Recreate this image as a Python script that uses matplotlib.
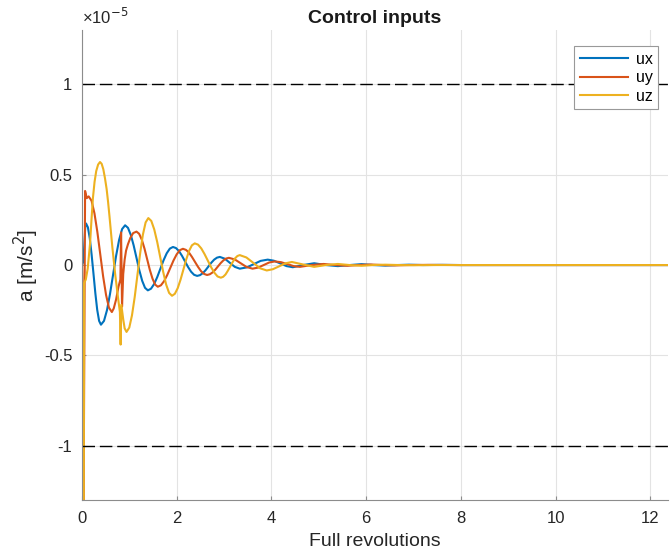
import numpy as np
import matplotlib.pyplot as plt

plt.rcParams['font.family'] = ['Liberation Sans', 'DejaVu Sans']
plt.rcParams['axes.unicode_minus'] = False

# control inputs, values in units of 1e-5 m/s^2, x in full revolutions
ux_x = [0, 0.03, 0.07, 0.085, 0.124, 0.164, 0.203, 0.243, 0.282, 0.321, 0.361, 0.40,
        0.464, 0.528, 0.591, 0.655, 0.719, 0.783, 0.846, 0.91,
        0.97, 1.03, 1.09, 1.15, 1.21, 1.27, 1.33, 1.39,
        1.456, 1.523, 1.589, 1.655, 1.721, 1.788, 1.854, 1.92,
        1.984, 2.048, 2.111, 2.175, 2.239, 2.303, 2.366, 2.43,
        2.49, 2.55, 2.61, 2.67, 2.73, 2.79, 2.85, 2.91,
        3.015, 3.12, 3.225, 3.33, 3.48, 3.625, 3.77, 3.92, 4.05, 4.185, 4.32, 4.45, 4.67, 4.90, 5.15,
        5.40, 5.65, 5.90, 6.15, 6.40, 6.65, 6.90, 7.20, 7.60, 8.0, 9.0, 10.0, 11.0, 12.37]
ux_y = [0, 0.02, 0.22, 0.23, 0.209, 0.148, 0.057, -0.05, -0.157, -0.248, -0.309, -0.33,
        -0.309, -0.249, -0.160, -0.055, 0.050, 0.139, 0.199, 0.22,
        0.206, 0.167, 0.109, 0.04, -0.029, -0.087, -0.126, -0.14,
        -0.131, -0.105, -0.066, -0.02, 0.026, 0.065, 0.091, 0.10,
        0.094, 0.077, 0.051, 0.02, -0.011, -0.037, -0.054, -0.06,
        -0.056, -0.045, -0.028, -0.0075, 0.013, 0.030, 0.041, 0.045,
        0.035, 0.0125, -0.01, -0.02, -0.013, 0.005, 0.023, 0.03, 0.024, 0.009, -0.006, -0.012, 0.0, 0.01, 0.0,
        -0.006, 0.0, 0.005, 0.0, -0.003, 0.0, 0.002, 0.0, 0.001, 0.0, 0.0, 0.0, 0.0, 0.0]

uy_x = [0, 0.015, 0.028, 0.065, 0.10, 0.14,
        0.201, 0.263, 0.324, 0.385, 0.446, 0.508, 0.569, 0.63,
        0.67, 0.72, 0.77, 0.81, 0.825, 0.845, 0.87, 0.90, 0.93, 0.97, 1.02, 1.08, 1.15,
        1.206, 1.263, 1.319, 1.375, 1.431, 1.488, 1.544, 1.60,
        1.666, 1.733, 1.799, 1.865, 1.931, 1.998, 2.064, 2.13,
        2.194, 2.258, 2.321, 2.385, 2.449, 2.513, 2.576, 2.64,
        2.698, 2.755, 2.813, 2.87, 2.928, 2.985, 3.043, 3.10,
        3.225, 3.35, 3.475, 3.60, 3.72, 3.835, 3.95, 4.07, 4.20, 4.335, 4.47, 4.60, 4.85, 5.10,
        5.35, 5.60, 5.85, 6.10, 6.35, 6.60, 6.90, 7.30, 8.0, 9.0, 10.0, 11.0, 12.37]
uy_y = [0, -0.2, -1.6, 0.41, 0.37, 0.38,
        0.356, 0.286, 0.183, 0.06, -0.063, -0.166, -0.236, -0.26,
        -0.24, -0.19, -0.12, -0.08, 0.18, -0.23, -0.05, 0.03, 0.08, 0.115, 0.15, 0.177, 0.185,
        0.173, 0.140, 0.091, 0.0325, -0.026, -0.075, -0.108, -0.12,
        -0.112, -0.089, -0.055, -0.015, 0.025, 0.059, 0.082, 0.09,
        0.084, 0.069, 0.045, 0.0175, -0.010, -0.034, -0.049, -0.055,
        -0.051, -0.041, -0.026, -0.0075, 0.011, 0.026, 0.036, 0.04,
        0.031, 0.01, -0.011, -0.02, -0.014, 0.0, 0.014, 0.02, 0.016, 0.005, -0.006, -0.01, 0.0, 0.006,
        0.0, -0.004, 0.0, 0.003, 0.0, -0.002, 0.0, 0.001, 0.0, 0.0, 0.0, 0.0, 0.0]

uz_x = [0, 0.01, 0.02, 0.035, 0.045, 0.08, 0.12, 0.17, 0.20, 0.23, 0.265, 0.30, 0.34, 0.38,
        0.415, 0.45, 0.485, 0.52, 0.55, 0.58, 0.61, 0.64, 0.67, 0.70, 0.73, 0.76, 0.80,
        0.815, 0.83, 0.87, 0.90, 0.94,
        0.998, 1.055, 1.113, 1.17, 1.228, 1.285, 1.343, 1.40,
        1.463, 1.525, 1.588, 1.65, 1.713, 1.775, 1.838, 1.90,
        1.96, 2.02, 2.08, 2.14, 2.20, 2.26, 2.32, 2.38,
        2.449, 2.518, 2.586, 2.655, 2.724, 2.793, 2.861, 2.93,
        2.98, 3.03, 3.08, 3.13, 3.18, 3.23, 3.28, 3.33,
        3.47, 3.615, 3.76, 3.90, 4.03, 4.165, 4.30, 4.43, 4.67, 4.90, 5.15, 5.40, 5.65, 5.90,
        6.15, 6.40, 6.70, 7.0, 7.5, 8.0, 9.0, 10.0, 11.0, 12.37]
uz_y = [0, -0.3, -1.6, -1.6, -0.10, -0.08, -0.02, 0.12, 0.25, 0.37, 0.46, 0.52, 0.556, 0.57,
        0.56, 0.53, 0.48, 0.42, 0.35, 0.27, 0.185, 0.10, 0.025, -0.05, -0.115, -0.18, -0.26,
        -0.44, -0.22, -0.30, -0.35, -0.37,
        -0.346, -0.278, -0.176, -0.055, 0.066, 0.168, 0.236, 0.26,
        0.244, 0.197, 0.127, 0.045, -0.037, -0.107, -0.154, -0.17,
        -0.159, -0.128, -0.081, -0.025, 0.031, 0.078, 0.109, 0.12,
        0.113, 0.092, 0.061, 0.025, -0.011, -0.042, -0.063, -0.07,
        -0.065, -0.052, -0.031, -0.0075, 0.016, 0.037, 0.05, 0.055,
        0.042, 0.0125, -0.018, -0.03, -0.023, -0.0065, 0.01, 0.017, 0.003, -0.01, 0.0, 0.006, 0.0, -0.004,
        0.0, 0.002, 0.0, -0.001, 0.0, 0.0, 0.0, 0.0, 0.0, 0.0]

limit = 1.0
x_ticks = [0, 2, 4, 6, 8, 10, 12]
y_ticks = [-1, -0.5, 0, 0.5, 1]
y_labels = ['-1', '-0.5', '0', '0.5', '1']

fig = plt.figure(figsize=(6.7, 5.57), dpi=100)
ax = fig.add_axes([0.1224, 0.1023, 0.8746, 0.8437])

ax.plot(ux_x, ux_y, color='#0072BD', lw=1.5, label='ux', solid_joinstyle='round')
ax.plot(uy_x, uy_y, color='#D95319', lw=1.5, label='uy', solid_joinstyle='round')
ax.plot(uz_x, uz_y, color='#EDB120', lw=1.5, label='uz', solid_joinstyle='round')
ax.axhline(limit, color='black', lw=1, dashes=(9, 3.5))
ax.axhline(-limit, color='black', lw=1, dashes=(9, 3.5))

ax.set_xlim(0, 12.37)
ax.set_ylim(-1.3, 1.3)
ax.set_xticks(x_ticks)
ax.set_yticks(y_ticks)
ax.set_yticklabels(y_labels)
ax.grid(True, color='#e3e3e3', lw=0.8)
ax.set_axisbelow(True)
for s in ['top', 'right']:
    ax.spines[s].set_visible(False)
for s in ['left', 'bottom']:
    ax.spines[s].set_color('#8c8c8c')
ax.tick_params(direction='in', length=3, color='#8c8c8c', labelcolor='#262626', labelsize=12)
ax.tick_params(axis='x', pad=8)
ax.tick_params(axis='y', pad=7)

ax.set_title('Control inputs', fontsize=14, fontweight='bold', color='#1a1a1a', pad=5)
ax.set_xlabel('Full revolutions', fontsize=14, color='#262626', labelpad=5)
ax.set_ylabel('a [m/s$^2$]', fontsize=15, color='#262626', labelpad=2)
ax.text(0.0, 1.006, '×10$^{-5}$', transform=ax.transAxes, fontsize=12, color='#262626',
        ha='left', va='bottom')

leg = ax.legend(loc='upper right', bbox_to_anchor=(0.983, 0.966), borderaxespad=0,
                fontsize=11.5, fancybox=False, framealpha=1, edgecolor='#999999',
                handlelength=3.0, labelspacing=0.22, borderpad=0.35, handletextpad=0.5)
leg.get_frame().set_linewidth(0.8)

fig.savefig('out.png', dpi=100)
